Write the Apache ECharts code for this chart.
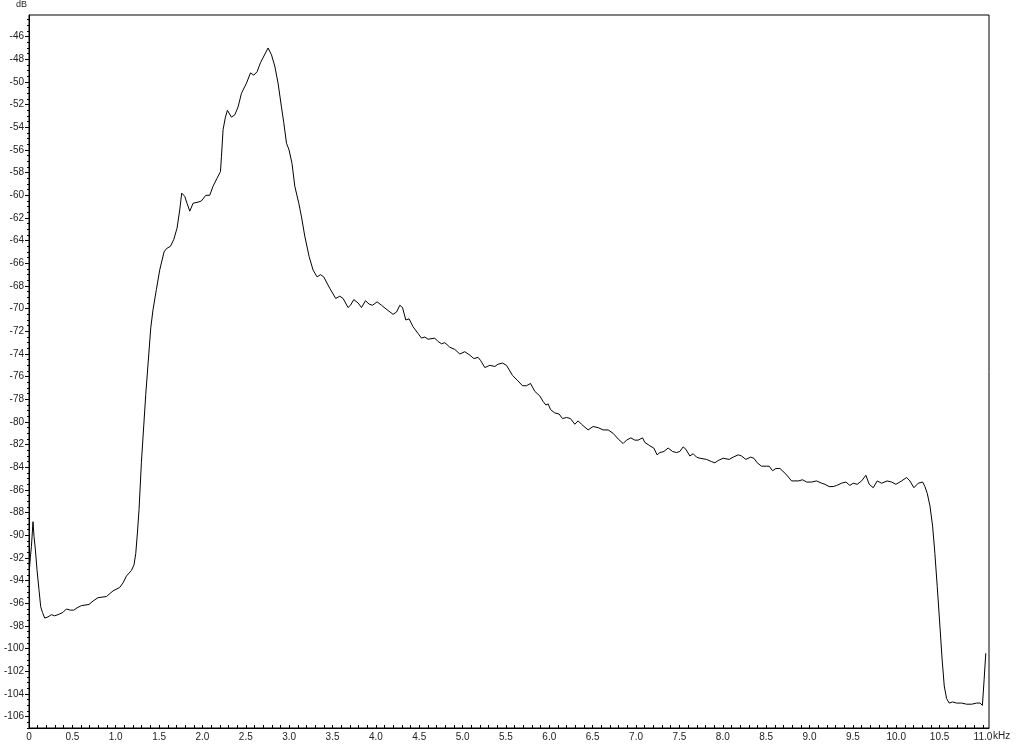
<!DOCTYPE html>
<html>
<head>
<meta charset="utf-8">
<script src="https://cdn.jsdelivr.net/npm/echarts@6/dist/echarts.min.js"></script>
<style>
html,body{margin:0;padding:0;background:#fff;}
#chart{width:1024px;height:745px;}
</style>
</head>
<body>
<div id="chart"></div>
<script>
// Frequency (kHz) of each traced point of the spectrum
const freqKHz = [
  0.005,0.016,0.028,0.046,0.058,0.074,0.092,0.115,0.135,0.155,
  0.181,0.219,0.258,0.296,0.334,0.392,0.431,0.450,0.478,0.516,
  0.554,0.604,0.692,0.738,0.796,0.893,0.969,1.046,1.084,1.123,
  1.181,1.211,1.231,1.250,1.269,1.296,1.346,1.404,1.430,1.469,
  1.507,1.557,1.585,1.631,1.669,1.707,1.738,1.761,1.796,1.822,
  1.854,1.892,1.949,1.988,2.038,2.084,2.122,2.168,2.208,2.219,
  2.238,2.265,2.288,2.334,2.373,2.411,2.450,2.508,2.554,2.592,
  2.630,2.669,2.757,2.796,2.834,2.872,2.911,2.938,2.969,2.999,
  3.033,3.065,3.111,3.142,3.180,3.230,3.276,3.322,3.361,3.399,
  3.468,3.537,3.584,3.622,3.679,3.707,3.745,3.795,3.834,3.880,
  3.922,3.961,4.014,4.065,4.129,4.198,4.238,4.276,4.307,4.345,
  4.383,4.429,4.487,4.526,4.564,4.602,4.679,4.717,4.757,4.795,
  4.852,4.910,4.968,5.025,5.083,5.129,5.179,5.210,5.256,5.314,
  5.372,5.409,5.460,5.506,5.576,5.629,5.691,5.737,5.783,5.833,
  5.890,5.929,5.960,5.986,6.014,6.063,6.113,6.152,6.198,6.244,
  6.294,6.332,6.371,6.447,6.505,6.563,6.621,6.678,6.736,6.794,
  6.851,6.890,6.940,6.986,7.024,7.075,7.101,7.159,7.205,7.243,
  7.274,7.321,7.370,7.421,7.467,7.505,7.543,7.574,7.620,7.659,
  7.698,7.736,7.813,7.871,7.909,7.947,8.005,8.074,8.120,8.178,
  8.217,8.266,8.321,8.359,8.397,8.447,8.505,8.535,8.574,8.613,
  8.659,8.728,8.794,8.870,8.921,8.967,9.024,9.082,9.140,9.178,
  9.227,9.273,9.313,9.370,9.420,9.466,9.504,9.550,9.601,9.650,
  9.689,9.735,9.781,9.832,9.896,9.947,9.997,10.062,10.120,10.158,
  10.204,10.254,10.305,10.331,10.358,10.389,10.420,10.446,10.473,10.504,
  10.530,10.554,10.581,10.611,10.650,10.696,10.754,10.812,10.871,10.928,
  10.966,10.994,11.014,11.033
];
// Level (dB) at each of those frequencies
const levelDb = [
  -93.0,-91.9,-91.0,-88.8,-90.1,-91.3,-93.0,-94.8,-96.3,-96.8,
  -97.3,-97.2,-97.0,-97.1,-97.0,-96.8,-96.5,-96.4,-96.6,-96.6,
  -96.4,-96.2,-96.1,-95.8,-95.5,-95.4,-94.9,-94.6,-94.2,-93.6,
  -93.1,-92.6,-91.6,-89.8,-87.7,-83.6,-77.6,-71.7,-70.1,-68.3,
  -66.6,-65.0,-64.7,-64.5,-63.9,-62.9,-61.3,-59.8,-60.1,-60.7,
  -61.4,-60.7,-60.6,-60.5,-60.0,-60.0,-59.2,-58.5,-57.9,-56.6,
  -54.2,-53.1,-52.5,-53.1,-52.9,-52.2,-51.0,-50.1,-49.2,-49.4,
  -49.1,-48.3,-47.0,-47.6,-48.6,-50.1,-52.2,-53.6,-55.4,-56.0,
  -57.2,-59.2,-60.7,-61.9,-63.6,-65.4,-66.6,-67.2,-67.0,-67.2,
  -68.2,-69.1,-68.9,-69.1,-69.9,-69.7,-69.2,-69.5,-69.9,-69.3,
  -69.6,-69.7,-69.4,-69.7,-70.1,-70.5,-70.3,-69.7,-69.9,-71.0,
  -70.9,-71.6,-72.2,-72.6,-72.5,-72.7,-72.6,-72.9,-73.1,-73.0,
  -73.4,-73.6,-74.0,-73.8,-74.1,-74.4,-74.3,-74.6,-75.2,-75.0,
  -75.1,-74.9,-74.8,-75.0,-75.9,-76.3,-76.8,-76.8,-76.6,-77.3,
  -77.7,-78.2,-78.5,-78.4,-78.9,-79.2,-79.3,-79.7,-79.6,-79.7,
  -80.2,-79.9,-80.2,-80.7,-80.4,-80.5,-80.7,-80.7,-81.0,-81.5,
  -81.9,-81.6,-81.4,-81.6,-81.6,-81.4,-81.8,-82.1,-82.3,-82.9,
  -82.7,-82.6,-82.3,-82.6,-82.7,-82.6,-82.2,-82.4,-83.0,-82.8,
  -83.1,-83.2,-83.3,-83.5,-83.6,-83.4,-83.2,-83.3,-83.1,-82.9,
  -83.0,-83.3,-83.1,-83.2,-83.6,-83.9,-83.9,-83.9,-84.3,-84.1,
  -84.1,-84.6,-85.2,-85.2,-85.1,-85.3,-85.3,-85.2,-85.4,-85.5,
  -85.7,-85.7,-85.6,-85.4,-85.3,-85.6,-85.4,-85.5,-85.2,-84.7,
  -85.5,-85.8,-85.2,-85.4,-85.2,-85.3,-85.5,-85.2,-84.9,-85.2,
  -85.8,-85.4,-85.3,-85.7,-86.3,-87.4,-89.2,-91.6,-94.5,-98.0,
  -101.0,-103.3,-104.4,-104.8,-104.7,-104.8,-104.8,-104.9,-104.9,-104.8,
  -104.8,-105.0,-102.7,-100.4
];
// Axis tick labels
const xTickLabels = [0,0.5,1.0,1.5,2.0,2.5,3.0,3.5,4.0,4.5,5.0,5.5,6.0,6.5,7.0,7.5,8.0,8.5,9.0,9.5,10.0,10.5,11.0];
const yTickLabels = [-106,-104,-102,-100,-98,-96,-94,-92,-90,-88,-86,-84,-82,-80,-78,-76,-74,-72,-70,-68,-66,-64,-62,-60,-58,-56,-54,-52,-50,-48,-46];

const X_MIN = 0, X_MAX = 11.07;
const Y_MIN = -107, Y_MAX = -44.09;

const xMinorTicks = [];
for (let i = 0; i <= 110; i++) xMinorTicks.push(Math.round(i) / 10);
const yMinorTicks = [];
for (let v = -107; v <= -44.2; v += 0.5) yMinorTicks.push(v);

const n = Math.min(freqKHz.length, levelDb.length);
const points = [];
for (let i = 0; i < n; i++) points.push([freqKHz[i], levelDb[i]]);

const FONT = 'Liberation Sans';
const chart = echarts.init(document.getElementById('chart'), null, {renderer: 'canvas'});
chart.setOption({
  animation: false,
  backgroundColor: '#fff',
  grid: {left: 29, top: 15, right: 35, bottom: 17, show: true, borderColor: '#000', borderWidth: 1, backgroundColor: '#fff'},
  xAxis: [{
    type: 'value', min: X_MIN, max: X_MAX, position: 'bottom',
    axisLine: {show: true, lineStyle: {color: '#000', width: 1}},
    axisTick: {show: true, inside: true, length: 3, customValues: xMinorTicks, lineStyle: {color: '#000'}},
    axisLabel: {
      customValues: xTickLabels, margin: 4, color: '#222', fontSize: 10, fontFamily: FONT,
      formatter: v => (v === 0 ? '0' : Number(v).toFixed(1))
    },
    splitLine: {show: false}
  }],
  yAxis: [{
    type: 'value', min: Y_MIN, max: Y_MAX, position: 'left',
    axisLine: {show: true, lineStyle: {color: '#000', width: 1}},
    axisTick: {show: true, inside: false, length: 4, customValues: yTickLabels, lineStyle: {color: '#000'}},
    axisLabel: {customValues: yTickLabels, margin: 5, color: '#222', fontSize: 10, fontFamily: FONT, formatter: v => String(v)},
    splitLine: {show: false}
  }, {
    type: 'value', min: Y_MIN, max: Y_MAX, position: 'left', offset: 0,
    axisLine: {show: false},
    axisTick: {show: true, inside: false, length: 2, customValues: yMinorTicks, lineStyle: {color: '#000'}},
    axisLabel: {show: false},
    splitLine: {show: false}
  }],
  graphic: [
    {type: 'text', left: 16, top: 0, style: {text: 'dB', fontSize: 9, fontFamily: FONT, fill: '#222'}},
    {type: 'text', left: 993, top: 731, style: {text: 'kHz', fontSize: 10, fontFamily: FONT, fill: '#222'}}
  ],
  series: [{
    type: 'line', xAxisIndex: 0, yAxisIndex: 0, data: points,
    showSymbol: false, symbol: 'none', smooth: false,
    lineStyle: {color: '#000', width: 1}
  }]
});
</script>
</body>
</html>
